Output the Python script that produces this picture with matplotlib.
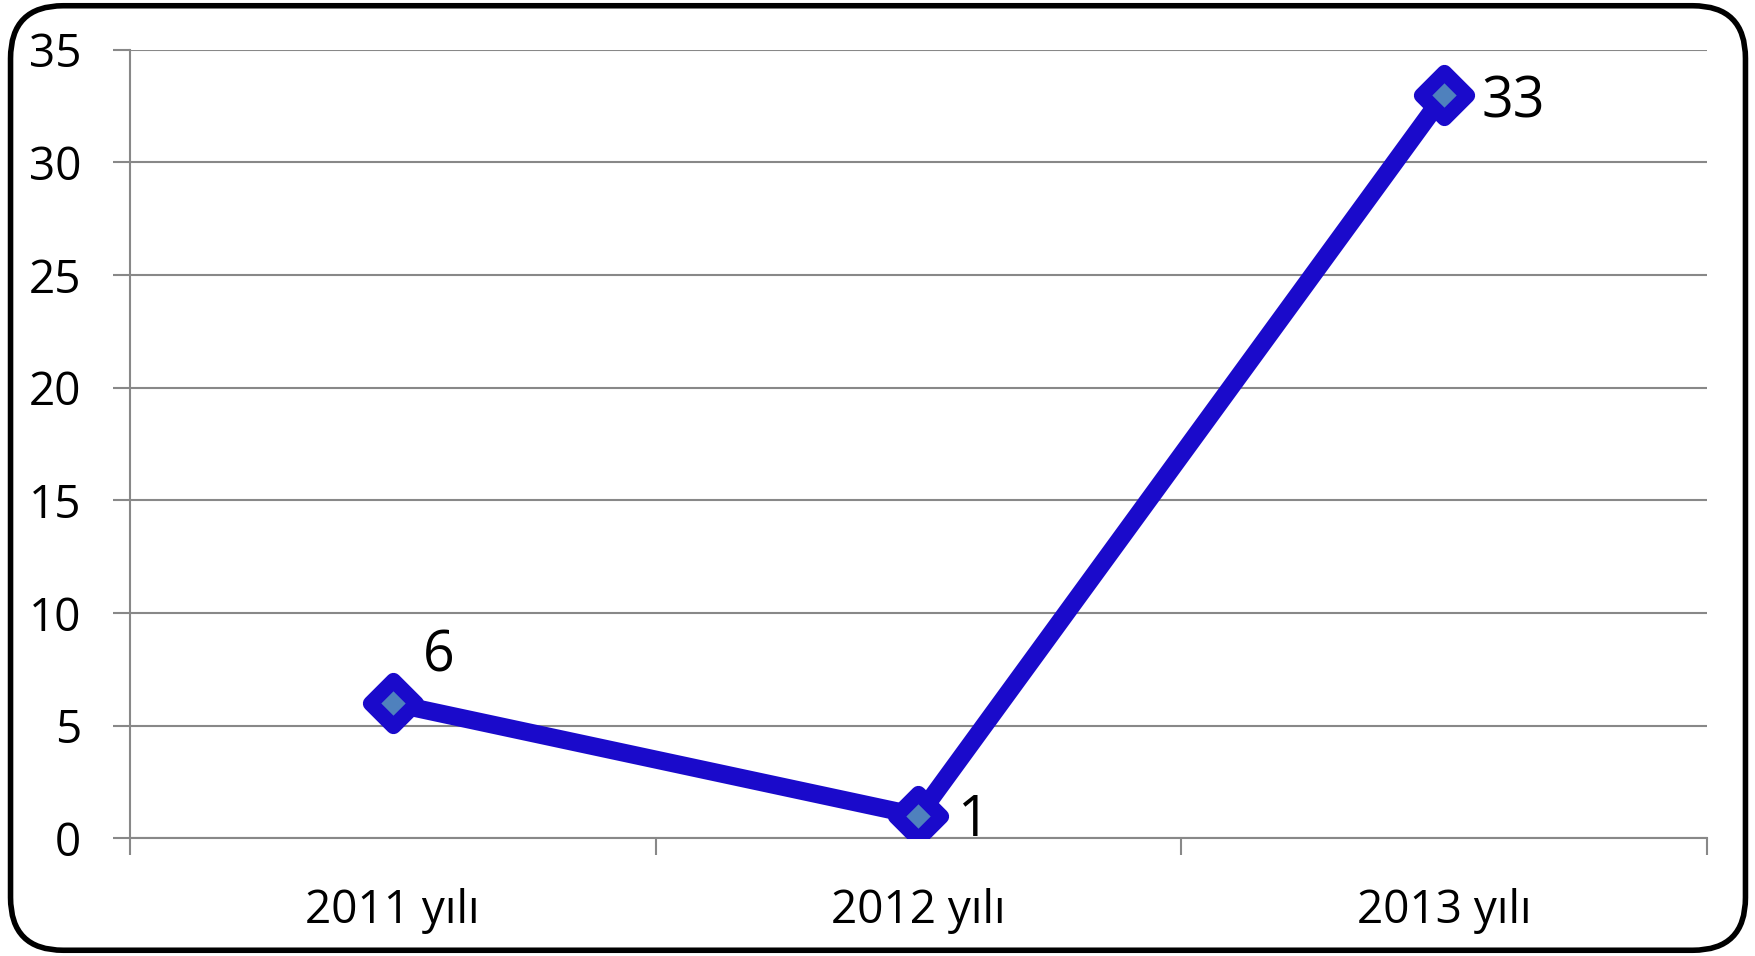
import numpy as np
import matplotlib.pyplot as plt
from matplotlib.patches import FancyBboxPatch
from matplotlib.markers import MarkerStyle

years = ["2011 yılı", "2012 yılı", "2013 yılı"]
counts = [6, 1, 33]
label_offsets = [(33, 33), (28, -4), (27, -6)]  # data label offsets in points

plt.rcParams['font.family'] = ['Open Sans', 'DejaVu Sans']

fig = plt.figure(figsize=(17.56, 9.56), dpi=100)
ax = fig.add_axes([0.074, 0.123, 0.898, 0.825])

x = np.arange(len(years))
ax.plot(x, counts, color='#1A0ACB', lw=13, marker=MarkerStyle('D', joinstyle='round'), ms=23,
        mfc='#4F81BD', mec='#1A0ACB', mew=11, solid_joinstyle='round', zorder=3)

for i, (xi, v, off) in enumerate(zip(x, counts, label_offsets)):
    ax.annotate(str(v), (xi, v), xytext=off, textcoords='offset points',
                ha='center' if i == 0 else 'left', va='center',
                fontsize=40, color='black')

ax.set_xlim(-0.5, 2.5)
ax.set_ylim(0, 35)
ax.set_yticks(range(0, 36, 5))
ax.set_xticks(x)
ax.set_xticklabels(years)
ax.set_xticks([-0.5, 0.5, 1.5, 2.5], minor=True)
ax.tick_params(axis='x', which='major', length=0, pad=36, labelsize=33)
ax.tick_params(axis='x', which='minor', length=12, width=1.5, color='#888888')
ax.tick_params(axis='y', length=12, width=1.5, color='#888888', labelsize=33, pad=23)
ax.grid(axis='y', color='#888888', lw=1.5)
ax.set_axisbelow(True)
for s in ['top', 'right']:
    ax.spines[s].set_visible(False)
for s in ['left', 'bottom']:
    ax.spines[s].set_color('#888888')
    ax.spines[s].set_linewidth(1.5)

border = FancyBboxPatch((0.006, 0.006), 0.988, 0.988, boxstyle='round,pad=0,rounding_size=0.03',
                        transform=fig.transFigure, fill=False, ec='black', lw=4,
                        mutation_aspect=1756 / 956)
fig.patches.append(border)

fig.savefig('out.png', dpi=100)
